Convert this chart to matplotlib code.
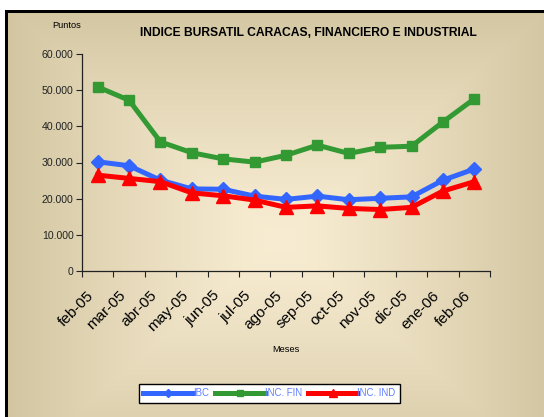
import numpy as np
import matplotlib.pyplot as plt
import matplotlib.transforms as mtransforms
from matplotlib.patches import Rectangle
from matplotlib.ticker import FuncFormatter

plt.rcParams['font.family'] = ['Liberation Sans', 'DejaVu Sans']

meses = ['feb-05', 'mar-05', 'abr-05', 'may-05', 'jun-05', 'jul-05', 'ago-05',
         'sep-05', 'oct-05', 'nov-05', 'dic-05', 'ene-06', 'feb-06']
ibc = [30200, 29100, 25100, 22700, 22600, 20700, 19800,
       20700, 19700, 20100, 20500, 25100, 28200]
inc_fin = [50900, 47200, 35700, 32700, 31000, 30100, 32000,
           34800, 32500, 34200, 34500, 41200, 47600]
inc_ind = [26500, 25600, 24700, 21600, 20800, 19600, 17600,
           18000, 17300, 17000, 17600, 22100, 24700]

W, H = 544, 417
fig = plt.figure(figsize=(W / 100, H / 100), dpi=100)
fig.patch.set_facecolor('white')

# background: rectangular "from center" gradient like the excel chart area
bg = fig.add_axes([0, 0, 1, 1], zorder=-5)
bg.set_xlim(0, W)
bg.set_ylim(H, 0)
bg.axis('off')
xx, yy = np.meshgrid(np.arange(7, W) + 0.5, np.arange(12, H) + 0.5)
t = np.maximum(np.abs(xx - 280) / 275, np.abs(yy - 240) / 235)
t = np.clip(t, 0, 1) ** 1.3
c0 = np.array([248, 236, 210]) / 255
c1 = np.array([210, 197, 160]) / 255
img = c0[None, None, :] * (1 - t[..., None]) + c1[None, None, :] * t[..., None]
bg.imshow(img, extent=(7, W, H, 12), aspect='auto', interpolation='bilinear')
bg.add_patch(Rectangle((4.5, 10), 3, H - 10, color='black', lw=0))
bg.add_patch(Rectangle((4.5, 10), W - 4.5, 2.5, color='black', lw=0))

ax = fig.add_axes([82 / W, 1 - 271 / H, (490 - 82) / W, (271 - 54) / H])
ax.patch.set_alpha(0)

x = np.arange(len(meses))
ax.plot(x, ibc, color='#3366ff', lw=3.6, marker='D', ms=7.5, label='IBC')
ax.plot(x, inc_fin, color='#339933', lw=3.6, marker='s', ms=7.5, label='INC. FIN')
ax.plot(x, inc_ind, color='#ff0000', lw=3.6, marker='^', ms=9.5, label='INC. IND')

ax.set_xlim(-0.5, len(meses) - 0.5)
ax.set_ylim(0, 60000)
ax.set_yticks(np.arange(0, 60001, 10000))
ax.yaxis.set_major_formatter(FuncFormatter(lambda v, p: f'{int(v):,}'.replace(',', '.')))
ax.tick_params(axis='y', labelsize=7.6, length=4, width=0.8, pad=2, colors='#222222')

ax.set_xticks(np.arange(-0.5, len(meses), 1))
ax.set_xticklabels([])
ax.tick_params(axis='x', which='major', length=4, width=0.8, color='#222222')
ax.set_xticks(x, minor=True)
ax.set_xticklabels(meses, minor=True, rotation=45, ha='right', va='center',
                   rotation_mode='anchor', fontsize=11)
ax.tick_params(axis='x', which='minor', length=0, pad=16)
shift = mtransforms.ScaledTranslation(-6 / 100, 0, fig.dpi_scale_trans)
for lab in ax.get_xticklabels(minor=True):
    lab.set_transform(lab.get_transform() + shift)

for s in ['top', 'right']:
    ax.spines[s].set_visible(False)
for s in ['left', 'bottom']:
    ax.spines[s].set_linewidth(0.9)
    ax.spines[s].set_color('#222222')

fig.text(308 / W, 1 - 33 / H, 'INDICE BURSATIL CARACAS, FINANCIERO E INDUSTRIAL',
         ha='center', va='center', fontsize=8.7, fontweight='bold')
fig.text(67 / W, 1 - 26 / H, 'Puntos', ha='center', va='center', fontsize=6.7)
fig.text(286 / W, 1 - 350 / H, 'Meses', ha='center', va='center', fontsize=6.7)

leg = fig.legend(loc='center', bbox_to_anchor=(269.5 / W, 1 - 393.5 / H),
                 bbox_transform=fig.transFigure, ncol=3, fontsize=6.9,
                 handlelength=5.2, handletextpad=0, columnspacing=0.6,
                 borderpad=0.45, fancybox=False, framealpha=1, markerscale=0.6)
leg.get_frame().set_edgecolor('black')
leg.get_frame().set_linewidth(1)
for txt in leg.get_texts():
    txt.set_color('#5f7fff')

fig.savefig('out.png', dpi=100)
